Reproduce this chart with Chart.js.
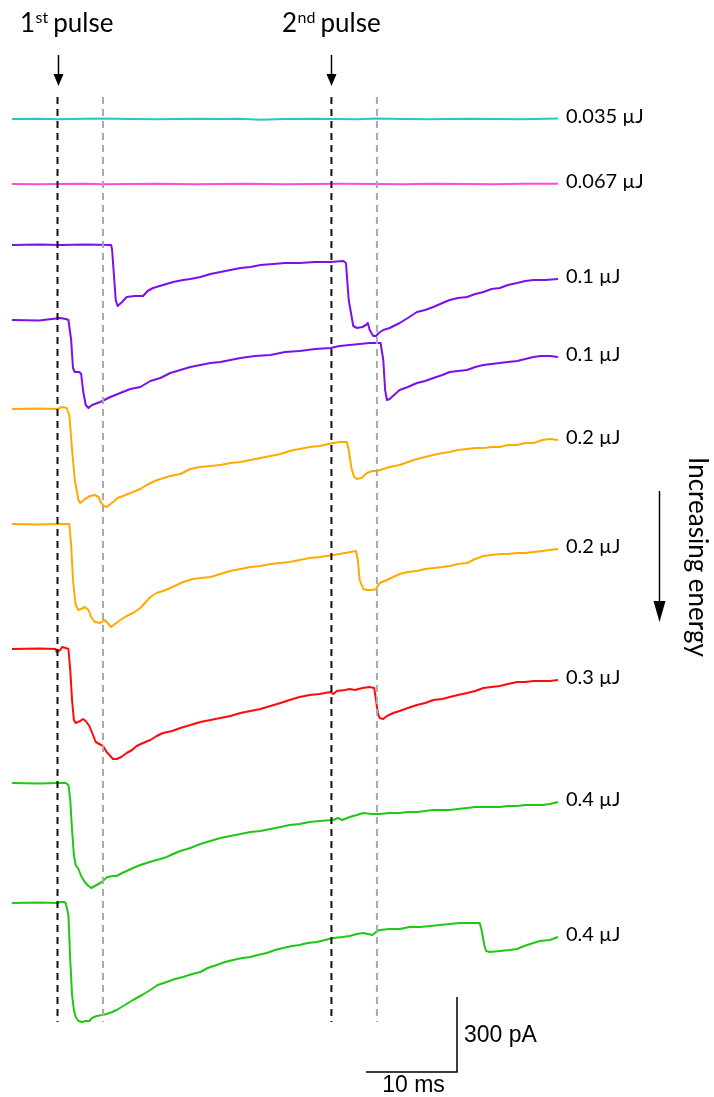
<!DOCTYPE html>
<html>
<head>
<meta charset="utf-8">
<script src="https://cdn.jsdelivr.net/npm/chart.js@4.4.1/dist/chart.umd.min.js"></script>
<style>
  html, body { margin: 0; padding: 0; background: #fff; }
  #wrap { width: 714px; height: 1097px; }
</style>
</head>
<body>
<div id="wrap"><canvas id="traces" width="714" height="1097"></canvas></div>
<script>
// time in ms, current in pA (relative to each trace's own baseline)
const energyLabels = ["0.035 µJ", "0.067 µJ", "0.1 µJ", "0.1 µJ", "0.2 µJ", "0.2 µJ", "0.3 µJ", "0.4 µJ", "0.4 µJ"];
const traceColors = ["#1fc9cc", "#ff4dd2", "#7b10e8", "#7b10e8", "#ffaa00", "#ffaa00", "#ff0a0a", "#1ec814", "#1ec814"];
// vertical stacking of the traces (pA)
const traceOffsets = [-476, -736, -980, -1280, -1636, -2096, -2596, -3132, -3612];

const pulseTimes = [5.0, 35.1];
const laterTimes = [10.0, 40.1];

const trace035 = [[0,0],[3,1],[5,-1],[8,1],[10,2],[13,0],[16,-1],[20,1],[23,0],[25,1],[27.3,-3],[30,0],[33,1],[35,0],[38,-1],[40,2],[43,0],[46,-1],[50,1],[53,0],[56,-1],[60,2]];
const trace067 = [[0,0],[3,-1],[5,0],[8,1],[10,-1],[13,0],[16,1],[20,-1],[23,0],[26,1],[30,-1],[33,0],[36,1],[40,0],[43,-1],[46,1],[50,0],[53,-1],[56,1],[60,1]];
const trace01a = [[0,0],[3,2],[5.3,0],[8,2],[10.9,0],[11.0,-20],[11.4,-220],[11.6,-244],[12.1,-228],[12.6,-208],[13.5,-204],[14.4,-204],[14.9,-184],[15.5,-172],[16.6,-160],[17.7,-148],[18.8,-140],[19.6,-136],[20.7,-128],[21.8,-116],[22.9,-108],[24.0,-100],[25.1,-92],[26.2,-88],[27.3,-80],[28.7,-76],[30.0,-72],[31.6,-72],[33.3,-68],[35.0,-68],[36.4,-64],[36.7,-72],[37.0,-220],[37.5,-324],[37.9,-332],[38.5,-328],[38.9,-320],[39.1,-312],[39.3,-340],[39.7,-364],[40.0,-364],[40.3,-352],[40.8,-340],[41.5,-332],[42.6,-312],[43.5,-292],[44.5,-268],[45.4,-260],[46.3,-248],[47.3,-232],[48.1,-220],[49.0,-212],[50.0,-208],[50.9,-196],[51.8,-188],[52.7,-176],[53.6,-172],[54.5,-160],[55.5,-152],[56.4,-144],[57.3,-140],[58.6,-140],[60.0,-136]];
const trace01b = [[0,0],[3,-2],[5.3,8],[5.9,4],[6.2,0],[6.5,-80],[6.7,-192],[6.9,-208],[7.4,-208],[7.6,-216],[7.8,-280],[8.1,-340],[8.4,-352],[8.8,-340],[9.7,-328],[10.8,-308],[11.9,-292],[13.0,-276],[14.1,-268],[15.2,-244],[16.3,-232],[17.4,-212],[18.5,-200],[19.6,-188],[20.7,-180],[21.8,-172],[22.9,-168],[24.0,-160],[25.1,-152],[26.7,-144],[28.4,-140],[30.0,-128],[31.6,-124],[33.3,-116],[35.0,-112],[36.0,-104],[37.1,-100],[38.2,-96],[39.3,-92],[40.5,-92],[40.8,-160],[41.0,-280],[41.2,-320],[41.5,-316],[42.1,-296],[42.6,-280],[43.5,-268],[44.5,-252],[45.4,-244],[46.3,-232],[47.3,-220],[48.1,-208],[49.0,-204],[50.0,-200],[50.9,-188],[51.8,-180],[52.7,-176],[53.6,-172],[54.5,-168],[55.5,-164],[56.4,-156],[57.3,-148],[58.1,-144],[59.1,-144],[60.0,-148]];
const trace02a = [[0,0],[3,2],[5.0,0],[5.5,8],[6.0,4],[6.3,-24],[6.6,-164],[6.9,-284],[7.3,-364],[7.5,-376],[8.0,-360],[8.6,-348],[9.1,-344],[9.5,-352],[9.8,-376],[10.1,-388],[10.4,-392],[11.1,-372],[11.6,-356],[12.2,-348],[13.3,-332],[14.1,-320],[14.8,-304],[15.7,-288],[16.3,-280],[17.4,-268],[18.5,-260],[19.6,-240],[20.7,-232],[21.8,-228],[22.9,-224],[24.0,-216],[25.1,-212],[26.2,-204],[27.3,-196],[28.4,-188],[29.5,-180],[30.5,-168],[31.6,-160],[32.7,-152],[33.8,-148],[35.3,-136],[36.0,-132],[36.8,-132],[37.0,-164],[37.3,-236],[37.6,-272],[37.9,-280],[38.4,-276],[39.0,-256],[39.6,-248],[40.1,-248],[40.8,-240],[41.5,-232],[42.6,-224],[43.5,-212],[44.5,-200],[45.4,-192],[46.3,-184],[47.3,-176],[48.1,-172],[49.0,-164],[50.0,-160],[50.9,-156],[51.8,-156],[52.7,-152],[53.6,-152],[54.5,-144],[55.5,-144],[56.4,-136],[57.3,-136],[58.3,-124],[59.1,-120],[60.0,-124]];
const trace02b = [[0,0],[3,-2],[5.0,0],[6.3,0],[6.5,-84],[6.7,-224],[7.0,-324],[7.3,-344],[7.6,-340],[8.0,-332],[8.4,-344],[8.7,-372],[9.1,-392],[9.7,-396],[10.2,-384],[10.5,-396],[10.9,-412],[11.3,-400],[11.9,-384],[12.6,-368],[13.3,-356],[14.1,-336],[14.6,-316],[15.2,-292],[15.9,-276],[16.6,-268],[17.4,-256],[18.1,-244],[18.8,-232],[19.9,-220],[20.7,-216],[21.8,-212],[22.9,-200],[24.0,-188],[25.1,-180],[26.2,-172],[27.3,-168],[28.4,-160],[29.5,-156],[30.5,-152],[31.6,-144],[32.7,-136],[33.8,-132],[35.3,-124],[36.6,-116],[37.8,-108],[38.0,-144],[38.2,-224],[38.6,-260],[39.0,-264],[39.6,-264],[40.0,-260],[40.4,-236],[41.2,-224],[41.9,-212],[42.6,-200],[43.5,-192],[44.5,-188],[45.4,-180],[46.3,-176],[47.3,-172],[48.1,-168],[49.0,-160],[50.0,-156],[50.9,-140],[51.8,-128],[52.7,-124],[53.6,-120],[54.5,-120],[55.5,-116],[56.4,-116],[57.3,-112],[58.3,-108],[59.1,-104],[60.0,-100]];
const trace03 = [[0,0],[3,2],[4.8,0],[4.9,-12],[5.3,-4],[5.5,8],[5.9,4],[6.2,0],[6.4,-84],[6.6,-204],[6.8,-284],[7.0,-296],[7.5,-288],[7.8,-280],[8.1,-288],[8.5,-308],[8.9,-344],[9.2,-372],[9.6,-380],[10.0,-388],[10.4,-412],[10.8,-428],[11.1,-440],[11.5,-440],[12.0,-432],[12.6,-416],[13.2,-404],[13.7,-388],[14.4,-376],[15.2,-364],[15.9,-348],[16.6,-336],[17.6,-328],[18.5,-316],[19.6,-304],[20.7,-292],[21.8,-284],[22.9,-276],[24.0,-268],[25.1,-256],[26.2,-248],[27.3,-240],[28.4,-228],[29.5,-216],[30.5,-204],[31.6,-192],[32.7,-184],[33.8,-180],[35.0,-172],[35.3,-180],[35.7,-168],[36.6,-164],[37.1,-160],[37.7,-164],[38.5,-156],[39.3,-152],[39.8,-156],[40.0,-204],[40.2,-256],[40.4,-276],[40.8,-280],[41.2,-268],[41.9,-256],[42.6,-248],[43.5,-236],[44.5,-224],[45.4,-216],[46.3,-204],[47.3,-200],[48.1,-192],[49.0,-184],[50.0,-176],[50.9,-168],[51.8,-156],[52.7,-152],[53.6,-148],[54.5,-140],[55.5,-132],[56.4,-132],[57.3,-128],[58.3,-128],[59.1,-128],[60.0,-124]];
const trace04a = [[0,0],[3,-2],[5.0,0],[5.9,0],[6.2,-8],[6.4,-68],[6.6,-188],[6.8,-288],[7.0,-328],[7.3,-344],[7.6,-372],[8.0,-396],[8.4,-412],[8.7,-420],[9.1,-412],[9.7,-400],[10.1,-388],[10.5,-376],[11.1,-372],[11.5,-372],[12.1,-360],[12.6,-352],[13.3,-340],[14.1,-328],[14.8,-320],[15.5,-312],[16.3,-304],[17.0,-296],[17.7,-284],[18.5,-272],[19.6,-260],[20.7,-244],[21.8,-232],[22.9,-220],[24.0,-212],[25.1,-204],[26.2,-196],[27.3,-192],[28.4,-184],[29.5,-176],[30.5,-168],[31.6,-164],[32.7,-156],[33.8,-152],[35.3,-148],[35.8,-140],[36.3,-148],[37.1,-136],[37.9,-128],[38.6,-120],[39.6,-124],[40.4,-124],[41.5,-120],[42.6,-120],[43.5,-116],[44.5,-116],[45.4,-112],[46.3,-108],[47.3,-108],[48.1,-108],[49.0,-104],[50.0,-100],[50.9,-96],[51.8,-96],[52.7,-96],[53.6,-96],[54.5,-92],[55.5,-92],[56.4,-88],[57.3,-88],[58.3,-88],[59.1,-84],[60.0,-76]];
const trace04b = [[0,0],[3,2],[5.0,0],[5.3,4],[5.7,4],[5.9,0],[6.2,-48],[6.4,-228],[6.6,-368],[6.8,-428],[7.0,-456],[7.3,-472],[7.7,-476],[8.1,-472],[8.5,-472],[8.8,-460],[9.3,-452],[9.9,-448],[10.4,-444],[11.0,-436],[11.5,-428],[12.4,-408],[13.3,-388],[14.3,-368],[15.2,-348],[16.0,-328],[17.0,-316],[17.9,-304],[18.8,-296],[19.8,-284],[20.7,-276],[21.5,-260],[22.5,-248],[23.4,-236],[24.3,-228],[25.3,-220],[26.2,-216],[27.0,-208],[28.0,-200],[28.9,-188],[29.8,-180],[30.8,-172],[31.6,-168],[32.5,-160],[33.5,-156],[34.4,-148],[35.3,-140],[36.3,-136],[37.1,-132],[37.9,-124],[38.6,-120],[39.1,-124],[39.6,-128],[40.0,-116],[40.4,-108],[41.5,-104],[42.6,-104],[43.7,-96],[44.8,-96],[46.0,-92],[47.0,-88],[48.1,-84],[49.2,-80],[50.3,-80],[51.4,-80],[51.6,-108],[51.9,-168],[52.1,-192],[52.5,-196],[53.6,-192],[54.7,-188],[55.5,-184],[56.0,-176],[56.6,-168],[57.3,-160],[58.0,-152],[59.1,-148],[60.0,-136]];

const traces = [trace035, trace067, trace01a, trace01b, trace02a, trace02b, trace03, trace04a, trace04b];

// scale bar: 10 ms, 300 pA
const barTimeStart = 38.9;
const barMs = 10;
const barPa = 300;
const barBottom = -4288;

// dashed markers run from just above the top trace to below the last one
const markerTop = -388;
const markerBottom = -4088;

function markerSet(t, color) {
  return {
    data: [{ x: t, y: markerTop }, { x: t, y: markerBottom }],
    borderColor: color,
    borderWidth: 2,
    borderDash: [7, 5],
    pointRadius: 0,
  };
}

const datasets = [];
pulseTimes.forEach((t) => datasets.push(markerSet(t, "#111111")));
laterTimes.forEach((t) => datasets.push(markerSet(t, "#aaaaaa")));
traces.forEach((tr, i) => {
  datasets.push({
    label: energyLabels[i],
    data: tr.map(([t, v]) => ({ x: t, y: v + traceOffsets[i] })),
    borderColor: traceColors[i],
    borderWidth: 2,
    pointRadius: 0,
    borderJoinStyle: "round",
  });
});
datasets.push({
  data: [
    { x: barTimeStart, y: barBottom },
    { x: barTimeStart + barMs, y: barBottom },
    { x: barTimeStart + barMs, y: barBottom + barPa },
  ],
  borderColor: "#000",
  borderWidth: 1.5,
  pointRadius: 0,
});

function arrowDown(ctx, x, y0, y1, half, head) {
  ctx.beginPath();
  ctx.moveTo(x, y0);
  ctx.lineTo(x, y1 - head);
  ctx.stroke();
  ctx.beginPath();
  ctx.moveTo(x - half, y1 - head);
  ctx.lineTo(x + half, y1 - head);
  ctx.lineTo(x, y1);
  ctx.closePath();
  ctx.fill();
}

const annotations = {
  id: "annotations",
  afterDatasetsDraw(chart) {
    const { ctx, scales } = chart;
    const xs = scales.x, ys = scales.y;
    ctx.save();
    ctx.fillStyle = "#000";
    ctx.strokeStyle = "#000";
    ctx.lineWidth = 1.5;

    // pulse titles with superscripts
    const titles = [["1", "st"], ["2", "nd"]];
    const titleX = [20, 282];
    titles.forEach(([num, sup], i) => {
      let x = titleX[i];
      ctx.textBaseline = "alphabetic";
      ctx.font = "26px Lato";
      ctx.fillText(num, x, 32);
      x += ctx.measureText(num).width + 0.5;
      ctx.font = "16px Lato";
      ctx.fillText(sup, x, 23);
      x += ctx.measureText(sup).width + 5;
      ctx.font = "26px Lato";
      ctx.fillText("pulse", x, 32);
    });

    // arrows above the pulse markers
    pulseTimes.forEach((t) => {
      const x = Math.round(xs.getPixelForValue(t)) + 0.5;
      arrowDown(ctx, x, 55, 86, 5, 12);
    });

    // energy labels at the end of each trace
    ctx.font = "20px Lato";
    ctx.textBaseline = "middle";
    ctx.textAlign = "left";
    const xEnd = xs.getPixelForValue(60) + 8;
    traces.forEach((tr, i) => {
      const last = tr[tr.length - 1][1] + traceOffsets[i];
      ctx.fillText(energyLabels[i], xEnd, ys.getPixelForValue(last) - 2);
    });

    // scale bar labels
    ctx.font = "23px 'Liberation Sans'";
    const barX = xs.getPixelForValue(barTimeStart + barMs);
    ctx.fillText(barPa + " pA", barX + 7, ys.getPixelForValue(barBottom + barPa / 2) + 1);
    ctx.textAlign = "center";
    ctx.fillText(barMs + " ms", xs.getPixelForValue(barTimeStart + barMs / 2) + 2, ys.getPixelForValue(barBottom) + 14);

    // side note
    arrowDown(ctx, 659.5, 491, 622, 6, 21);
    ctx.translate(697, 557);
    ctx.rotate(Math.PI / 2);
    ctx.font = "26px Lato";
    ctx.textAlign = "center";
    ctx.textBaseline = "middle";
    ctx.fillText("Increasing energy", 0, 0);
    ctx.restore();
  },
};

new Chart(document.getElementById("traces"), {
  type: "line",
  data: { datasets },
  options: {
    responsive: false,
    animation: false,
    devicePixelRatio: 1,
    layout: { padding: 0 },
    plugins: { legend: { display: false }, tooltip: { enabled: false } },
    scales: {
      x: { type: "linear", display: false, min: -1.319, max: 77.14 },
      y: { type: "linear", display: false, min: -4388, max: 0 },
    },
  },
  plugins: [annotations],
});
</script>
</body>
</html>
